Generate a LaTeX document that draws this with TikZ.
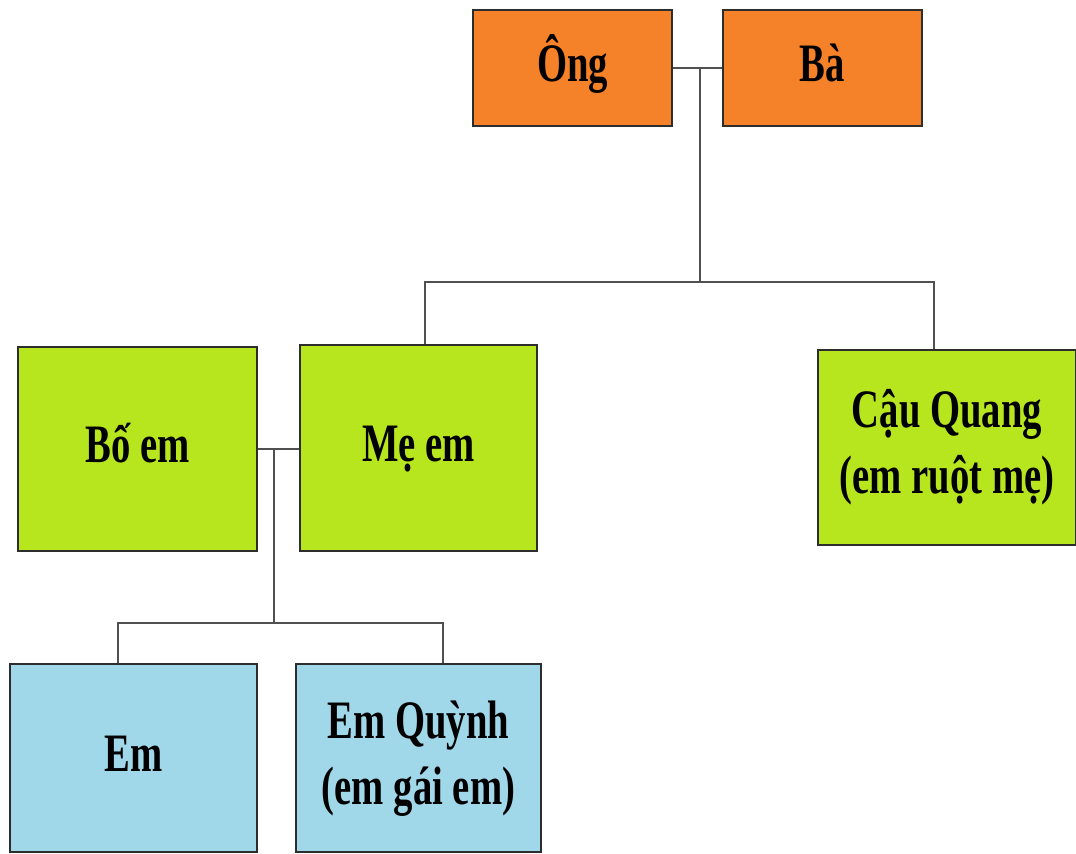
\documentclass[tikz,border=0pt]{standalone}
\usepackage{fontspec}
\setmainfont{Liberation Serif}
\usepackage{graphicx}
\usepackage{tikz}
\usetikzlibrary{positioning}

\definecolor{grandorange}{RGB}{245,130,40}
\definecolor{parentgreen}{RGB}{183,229,30}
\definecolor{childblue}{RGB}{160,216,234}
\definecolor{boxline}{RGB}{45,45,45}
\definecolor{linkgray}{RGB}{80,80,80}

\newcommand{\tallText}[1]{\scalebox{1}[1.4]{\begin{tabular}{@{}c@{}}#1\end{tabular}}}

\begin{document}
\begin{tikzpicture}[
                          x=0.02cm, y=-0.02cm,
                          familybox/.style={rectangle, draw=boxline, line width=1.6pt, inner sep=0pt, font=\bfseries\fontsize{22}{27}\selectfont},
                          oldbox/.style={familybox, fill=grandorange, minimum width=3.98cm, minimum height=2.32cm},
                          parentbox/.style={familybox, fill=parentgreen},
                          childbox/.style={familybox, fill=childblue, minimum height=3.76cm},
                          link/.style={draw=linkgray, line width=1.6pt},
                      ]
                      \useasboundingbox (0,0) rectangle (1076,854);

                      %Nodes
                      \node[oldbox]     (ong)     at (572.5,68)    {\tallText{Ông}};
                      \node[oldbox]     (ba)      at (822.5,68)    {\tallText{Bà}};
                      \node[parentbox, minimum width=4.78cm, minimum height=4.08cm]  (bo)   at (137.5,449)   {\tallText{Bố em}};
                      \node[parentbox, minimum width=4.74cm, minimum height=4.12cm]  (me)   at (418.5,448)   {\tallText{Mẹ em}};
                      \node[parentbox, minimum width=5.16cm, minimum height=3.90cm]  (cau)  at (947,447.5)   {\tallText{Cậu Quang\\(em ruột mẹ)}};
                      \node[childbox, minimum width=4.94cm]   (em)      at (133.5,758)   {\tallText{Em}};
                      \node[childbox, minimum width=4.90cm]   (quynh)   at (418.5,758)   {\tallText{Em Quỳnh\\(em gái em)}};

                      \coordinate (grand)     at (700,67);
                      \coordinate (grandbar)  at (700,282);
                      \coordinate (parent)    at (274,449);
                      \coordinate (parentbar) at (274,623);

                      %Lines
                      \draw[link] (ong.east) -- (ba.west);
                      \draw[link] (grand) -- (grandbar);
                      \draw[link] ([xshift=0.13cm]me.north) |- (grandbar) -| ([xshift=-0.26cm]cau.north);
                      \draw[link] (bo.east) -- (bo.east -| me.west);
                      \draw[link] (parent) -- (parentbar);
                      \draw[link] ([xshift=-0.31cm]em.north) |- (parentbar) -| ([xshift=0.49cm]quynh.north);
                  \end{tikzpicture}
\end{document}
